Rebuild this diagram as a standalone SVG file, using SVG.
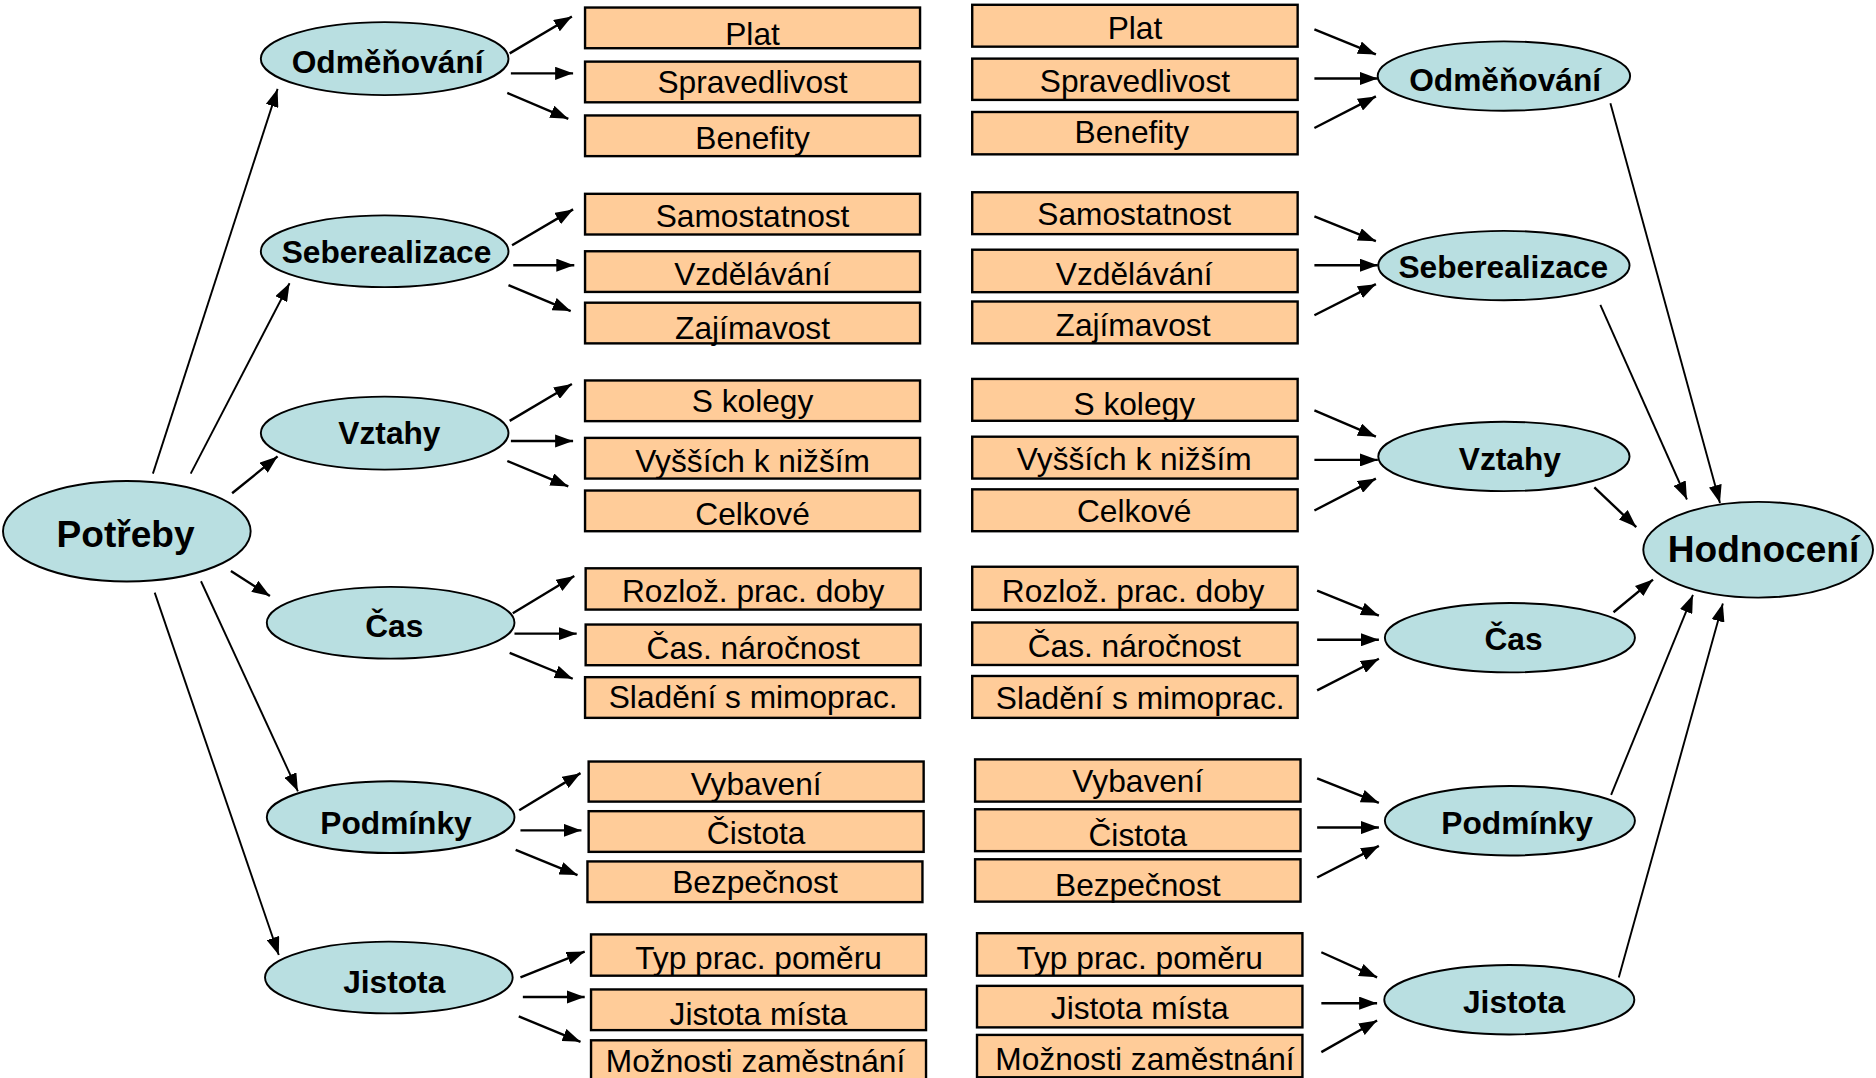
<svg xmlns="http://www.w3.org/2000/svg" width="1876" height="1078" viewBox="0 0 1876 1078">
<style>
.e{fill:#B9DFE1;stroke:#000;stroke-width:1.6}
.b{fill:#FFCC99;stroke:#000;stroke-width:2}
.t{font-family:"Liberation Sans",Arial,sans-serif;font-size:26.5px;text-anchor:middle;fill:#000}
.l{font-family:"Liberation Sans",Arial,sans-serif;font-size:26.5px;font-weight:bold;text-anchor:middle;fill:#000}
.big{font-size:31px}
.c line{stroke:#000;stroke-width:2;marker-end:url(#a)}
.c line.long{stroke-width:1.6}
</style>
<defs>
<marker id="a" markerUnits="userSpaceOnUse" markerWidth="15" markerHeight="11" refX="15" refY="5.5" orient="auto"><path d="M0,0 L15,5.5 L0,11 z" fill="#000"/></marker>
</defs>
<rect width="1876" height="1078" fill="#fff"/>
<g transform="scale(1.19643)">
<g class="c" id="connectors">
<line class="long" x1="127.8" y1="395.9" x2="232" y2="74.3"/>
<line class="long" x1="159.4" y1="395.9" x2="242" y2="236.7"/>
<line x1="194" y1="412.3" x2="232" y2="381.5"/>
<line x1="193" y1="477.2" x2="225.6" y2="498.2"/>
<line class="long" x1="168" y1="485.8" x2="249" y2="661.4"/>
<line class="long" x1="129.3" y1="495.3" x2="233" y2="798.2"/>
<line x1="426" y1="44.6" x2="478" y2="13.8"/>
<line x1="427" y1="61.3" x2="479" y2="61.3"/>
<line x1="424" y1="77.7" x2="475" y2="99.3"/>
<line x1="428" y1="205" x2="479" y2="175"/>
<line x1="429" y1="221.7" x2="480" y2="221.7"/>
<line x1="425" y1="238.4" x2="477" y2="260"/>
<line x1="426" y1="351.8" x2="478" y2="321"/>
<line x1="427" y1="368.6" x2="479" y2="368.6"/>
<line x1="424" y1="385.3" x2="475" y2="406.6"/>
<line x1="428.6" y1="512.6" x2="480" y2="481.5"/>
<line x1="430" y1="529.6" x2="482" y2="529.6"/>
<line x1="426" y1="545.7" x2="478.7" y2="567.3"/>
<line x1="434" y1="677.3" x2="485.2" y2="646.2"/>
<line x1="435" y1="694" x2="486" y2="694"/>
<line x1="431" y1="710.4" x2="482.7" y2="731.4"/>
<line x1="435" y1="816.9" x2="488.7" y2="795.3"/>
<line x1="437" y1="833.3" x2="488.7" y2="833.3"/>
<line x1="433.6" y1="849.5" x2="485.2" y2="870.8"/>
<line x1="1098.6" y1="24.5" x2="1150" y2="45.5"/>
<line x1="1098.6" y1="65.6" x2="1151.6" y2="65.6"/>
<line x1="1098.6" y1="107" x2="1150" y2="80.6"/>
<line x1="1098.6" y1="180.8" x2="1150" y2="201.6"/>
<line x1="1098.6" y1="221.7" x2="1151.6" y2="221.7"/>
<line x1="1098.6" y1="263.5" x2="1150" y2="237.5"/>
<line x1="1098.6" y1="343" x2="1150" y2="365"/>
<line x1="1098.6" y1="384.4" x2="1151.6" y2="384.4"/>
<line x1="1098.6" y1="426.7" x2="1150" y2="400"/>
<line x1="1100.9" y1="493.6" x2="1152.5" y2="514.6"/>
<line x1="1100.9" y1="534.7" x2="1152.5" y2="534.7"/>
<line x1="1100.9" y1="577" x2="1152.5" y2="550.6"/>
<line x1="1100.9" y1="650.5" x2="1152.5" y2="671"/>
<line x1="1100.9" y1="691.7" x2="1152.5" y2="691.7"/>
<line x1="1100.9" y1="733.4" x2="1152.5" y2="707"/>
<line x1="1104.4" y1="795.9" x2="1151" y2="816.9"/>
<line x1="1104.4" y1="838.5" x2="1151" y2="838.5"/>
<line x1="1104.4" y1="879.4" x2="1151" y2="852.9"/>
<line class="long" x1="1346" y1="86.4" x2="1437.6" y2="420.4"/>
<line class="long" x1="1337.6" y1="254.8" x2="1410" y2="417.5"/>
<line x1="1332.6" y1="407.4" x2="1367.6" y2="440.5"/>
<line x1="1348.6" y1="511.7" x2="1381.6" y2="484.4"/>
<line class="long" x1="1346.6" y1="664.3" x2="1415" y2="497.3"/>
<line class="long" x1="1353" y1="817" x2="1440" y2="504.5"/>
</g>
<g id="potreby"><ellipse class="e" cx="106" cy="444" rx="103.5" ry="42"/><text class="l big" x="105" y="457">Potřeby</text></g>
<g id="hodnoceni"><ellipse class="e" cx="1469.5" cy="459.5" rx="96" ry="40"/><text class="l big" x="1474" y="470">Hodnocení</text></g>
<g id="l-odm"><ellipse class="e" cx="321.5" cy="49" rx="103.5" ry="30.5"/><text class="l" x="324" y="61">Odměňování</text></g>
<g id="l-seb"><ellipse class="e" cx="321.5" cy="210" rx="103.5" ry="30"/><text class="l" x="323" y="220">Seberealizace</text></g>
<g id="l-vzt"><ellipse class="e" cx="321.5" cy="362" rx="103.5" ry="30.5"/><text class="l" x="325.5" y="371.5">Vztahy</text></g>
<g id="l-cas"><ellipse class="e" cx="326.5" cy="520.5" rx="103.5" ry="30"/><text class="l" x="329.5" y="532">Čas</text></g>
<g id="l-pod"><ellipse class="e" cx="326.5" cy="683" rx="103.5" ry="30"/><text class="l" x="331" y="697">Podmínky</text></g>
<g id="l-jis"><ellipse class="e" cx="325" cy="817" rx="103.5" ry="30"/><text class="l" x="329.5" y="830">Jistota</text></g>
<g id="r-odm"><ellipse class="e" cx="1257" cy="63.6" rx="105.5" ry="29"/><text class="l" x="1258" y="76">Odměňování</text></g>
<g id="r-seb"><ellipse class="e" cx="1257" cy="222" rx="105" ry="29"/><text class="l" x="1256.5" y="232">Seberealizace</text></g>
<g id="r-vzt"><ellipse class="e" cx="1257" cy="381.5" rx="105" ry="29"/><text class="l" x="1262" y="393">Vztahy</text></g>
<g id="r-cas"><ellipse class="e" cx="1262" cy="533" rx="104.5" ry="29"/><text class="l" x="1265" y="543.5">Čas</text></g>
<g id="r-pod"><ellipse class="e" cx="1262" cy="686" rx="104.5" ry="29"/><text class="l" x="1268" y="697">Podmínky</text></g>
<g id="r-jis"><ellipse class="e" cx="1261.5" cy="835.6" rx="104.5" ry="29"/><text class="l" x="1265.5" y="847">Jistota</text></g>
<g id="lb-plat"><rect class="b" x="489" y="6.3" width="280" height="34"/><text class="t" x="629" y="37.4">Plat</text></g>
<g id="lb-sprav"><rect class="b" x="489" y="51.5" width="280" height="34"/><text class="t" x="629" y="77.7">Spravedlivost</text></g>
<g id="lb-ben"><rect class="b" x="489" y="96.5" width="280" height="34"/><text class="t" x="629" y="124.4">Benefity</text></g>
<g id="lb-sam"><rect class="b" x="489" y="162" width="280" height="34"/><text class="t" x="629" y="190">Samostatnost</text></g>
<g id="lb-vzd"><rect class="b" x="489" y="210" width="280" height="34"/><text class="t" x="629" y="238.4">Vzdělávání</text></g>
<g id="lb-zaj"><rect class="b" x="489" y="253" width="280" height="34"/><text class="t" x="629" y="283.6">Zajímavost</text></g>
<g id="lb-skol"><rect class="b" x="489" y="318" width="280" height="34"/><text class="t" x="629" y="344">S kolegy</text></g>
<g id="lb-vys"><rect class="b" x="489" y="366" width="280" height="34"/><text class="t" x="629" y="394.5">Vyšších k nižším</text></g>
<g id="lb-celk"><rect class="b" x="489" y="410" width="280" height="34"/><text class="t" x="629" y="439">Celkové</text></g>
<g id="lb-rozl"><rect class="b" x="489.5" y="475" width="280" height="34.5"/><text class="t" x="629.5" y="503.1">Rozlož. prac. doby</text></g>
<g id="lb-casn"><rect class="b" x="489.5" y="522" width="280" height="34"/><text class="t" x="629.5" y="551.2">Čas. náročnost</text></g>
<g id="lb-slad"><rect class="b" x="489" y="566" width="280" height="34"/><text class="t" x="629.5" y="591.5">Sladění s mimoprac.</text></g>
<g id="lb-vyb"><rect class="b" x="492" y="636.5" width="280" height="33.5"/><text class="t" x="632" y="664.3">Vybavení</text></g>
<g id="lb-cist"><rect class="b" x="492" y="678" width="280" height="34"/><text class="t" x="632" y="705.5">Čistota</text></g>
<g id="lb-bezp"><rect class="b" x="491" y="720" width="280" height="34"/><text class="t" x="631" y="746.4">Bezpečnost</text></g>
<g id="lb-typ"><rect class="b" x="494" y="781" width="280" height="34.5"/><text class="t" x="634" y="810.3">Typ prac. poměru</text></g>
<g id="lb-jm"><rect class="b" x="494" y="827" width="280" height="34"/><text class="t" x="634" y="856.4">Jistota místa</text></g>
<g id="lb-mz"><rect class="b" x="494" y="869.5" width="280" height="36"/><text class="t" x="631.5" y="896">Možnosti zaměstnání</text></g>
<g id="rb-plat"><rect class="b" x="812.6" y="4" width="272" height="35"/><text class="t" x="948.6" y="32.2">Plat</text></g>
<g id="rb-sprav"><rect class="b" x="812.6" y="49" width="272" height="34.5"/><text class="t" x="948.6" y="77.2">Spravedlivost</text></g>
<g id="rb-ben"><rect class="b" x="812.6" y="93.6" width="272" height="35.4"/><text class="t" x="946" y="119.5">Benefity</text></g>
<g id="rb-sam"><rect class="b" x="812.6" y="160.7" width="272" height="35"/><text class="t" x="948" y="187.7">Samostatnost</text></g>
<g id="rb-vzd"><rect class="b" x="812.6" y="208.7" width="272" height="35.5"/><text class="t" x="948" y="238.4">Vzdělávání</text></g>
<g id="rb-zaj"><rect class="b" x="812.6" y="252" width="272" height="35"/><text class="t" x="947" y="280.7">Zajímavost</text></g>
<g id="rb-skol"><rect class="b" x="812.6" y="316.7" width="272" height="35"/><text class="t" x="948" y="347">S kolegy</text></g>
<g id="rb-vys"><rect class="b" x="812.6" y="365" width="272" height="35"/><text class="t" x="948" y="393">Vyšších k nižším</text></g>
<g id="rb-celk"><rect class="b" x="812.6" y="409" width="272" height="35"/><text class="t" x="948" y="436.2">Celkové</text></g>
<g id="rb-rozl"><rect class="b" x="812.6" y="473.7" width="272" height="36"/><text class="t" x="947" y="503.1">Rozlož. prac. doby</text></g>
<g id="rb-casn"><rect class="b" x="812.6" y="520.3" width="272" height="35.5"/><text class="t" x="948" y="549.1">Čas. náročnost</text></g>
<g id="rb-slad"><rect class="b" x="812.6" y="565" width="272" height="35"/><text class="t" x="953" y="592.3">Sladění s mimoprac.</text></g>
<g id="rb-vyb"><rect class="b" x="815" y="634.7" width="272" height="35.3"/><text class="t" x="951" y="662.3">Vybavení</text></g>
<g id="rb-cist"><rect class="b" x="815" y="676.4" width="272" height="35"/><text class="t" x="951" y="706.9">Čistota</text></g>
<g id="rb-bezp"><rect class="b" x="815" y="718.2" width="272" height="35.4"/><text class="t" x="951" y="749.3">Bezpečnost</text></g>
<g id="rb-typ"><rect class="b" x="816.6" y="780" width="272" height="35.5"/><text class="t" x="952.6" y="809.7">Typ prac. poměru</text></g>
<g id="rb-jm"><rect class="b" x="816.6" y="824" width="272" height="34.7"/><text class="t" x="952.6" y="851.5">Jistota místa</text></g>
<g id="rb-mz"><rect class="b" x="816.6" y="865" width="272" height="35.4"/><text class="t" x="957" y="894.7">Možnosti zaměstnání</text></g>
</g>
</svg>
